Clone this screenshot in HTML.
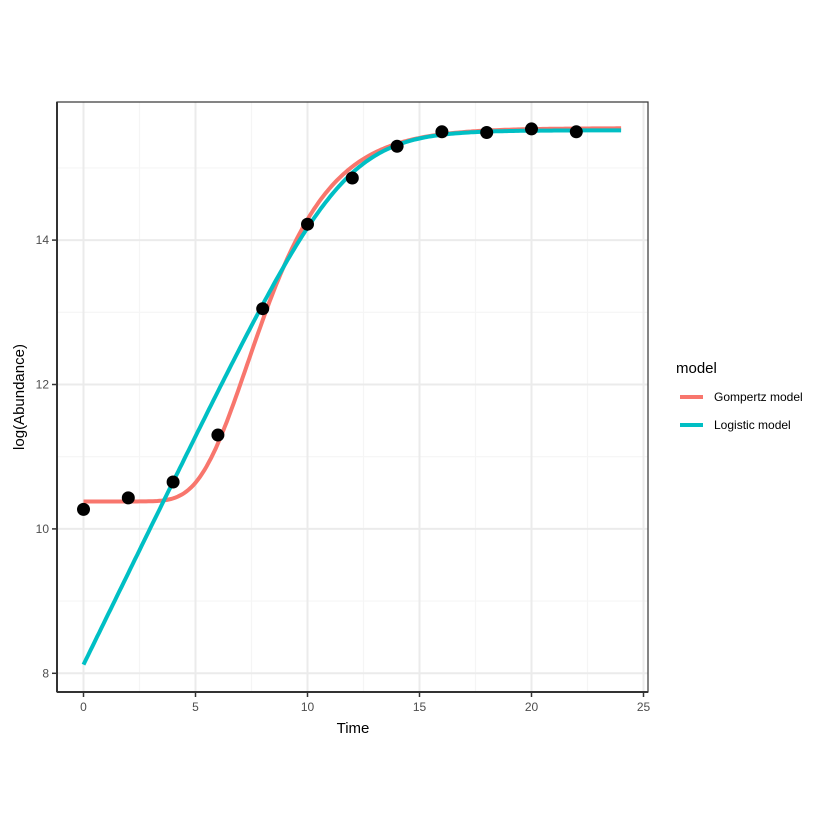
<!DOCTYPE html>
<html><head><meta charset="utf-8"><style>body{margin:0;background:#fff}svg{display:block;font-family:"Liberation Sans",sans-serif}</style></head>
<body><svg id="s" width="840" height="840" xmlns="http://www.w3.org/2000/svg"></svg>
<script>
const X=t=>83.5+22.4*t, Y=v=>673.3-72.2*(v-8);
let h='<rect width="840" height="840" fill="#fff"/>';
const L=57,R=648,T=102,B=692;
for(let t=2.5;t<25;t+=5)h+=`<line x1="${X(t)}" x2="${X(t)}" y1="${T}" y2="${B}" stroke="#F5F5F5" stroke-width="1.1"/>`;
for(let v=9;v<=15;v+=2)h+=`<line x1="${L}" x2="${R}" y1="${Y(v)}" y2="${Y(v)}" stroke="#F5F5F5" stroke-width="1.1"/>`;
for(let t=0;t<=25;t+=5)h+=`<line x1="${X(t)}" x2="${X(t)}" y1="${T}" y2="${B}" stroke="#EBEBEB" stroke-width="2"/>`;
for(let v=8;v<=14;v+=2)h+=`<line x1="${L}" x2="${R}" y1="${Y(v)}" y2="${Y(v)}" stroke="#EBEBEB" stroke-width="2"/>`;
let g=[],l=[];
for(let t=0;t<=24.001;t+=0.1){
 const A=15.55-10.38;
 const gy=10.38+A*Math.exp(-Math.exp(0.9*Math.E*(5.2-t)/A+1));
 g.push(X(t).toFixed(1)+','+Y(gy).toFixed(1));
 const ly=15.52-Math.log(1+(Math.exp(15.52-8.12)-1)*Math.exp(-0.635*t));
 l.push(X(t).toFixed(1)+','+Y(ly).toFixed(1));
}
h+=`<polyline points="${g.join(' ')}" fill="none" stroke="#F8766D" stroke-width="4"/>`;
h+=`<polyline points="${l.join(' ')}" fill="none" stroke="#00BFC4" stroke-width="4"/>`;
const pts=[[0,10.27],[2,10.43],[4,10.65],[6,11.3],[8,13.05],[10,14.22],[12,14.86],[14,15.3],[16,15.5],[18,15.49],[20,15.54],[22,15.5]];
for(const[p,q] of pts)h+=`<circle cx="${X(p)}" cy="${Y(q)}" r="6.5" fill="#000"/>`;
h+=`<rect x="${L}" y="${T}" width="${R-L}" height="${B-T}" fill="none" stroke="#333" stroke-width="1.2"/>`;
h+=`<line x1="${L}" x2="${R}" y1="${B}" y2="${B}" stroke="#333" stroke-width="2"/><line x1="${L}" x2="${L}" y1="${T}" y2="${B}" stroke="#333" stroke-width="2"/>`;
for(let t=0;t<=25;t+=5){h+=`<line x1="${X(t)}" x2="${X(t)}" y1="${B}" y2="${B+5}" stroke="#333" stroke-width="1.5"/><text x="${X(t)}" y="${B+19}" font-size="12" fill="#4D4D4D" text-anchor="middle">${t}</text>`;}
for(let v=8;v<=14;v+=2){h+=`<line x1="${L-5}" x2="${L}" y1="${Y(v)}" y2="${Y(v)}" stroke="#333" stroke-width="1.5"/><text x="${L-8}" y="${Y(v)+4}" font-size="12" fill="#4D4D4D" text-anchor="end">${v}</text>`;}
h+=`<text x="353" y="733" font-size="15" text-anchor="middle">Time</text>`;
h+=`<text transform="translate(24,397) rotate(-90)" font-size="15" text-anchor="middle">log(Abundance)</text>`;
h+=`<text x="676" y="373" font-size="15">model</text>`;
h+=`<line x1="680" x2="703" y1="397" y2="397" stroke="#F8766D" stroke-width="4"/><text x="714" y="401" font-size="12">Gompertz model</text>`;
h+=`<line x1="680" x2="703" y1="425" y2="425" stroke="#00BFC4" stroke-width="4"/><text x="714" y="429" font-size="12">Logistic model</text>`;
document.getElementById('s').innerHTML=h;
</script></body></html>
